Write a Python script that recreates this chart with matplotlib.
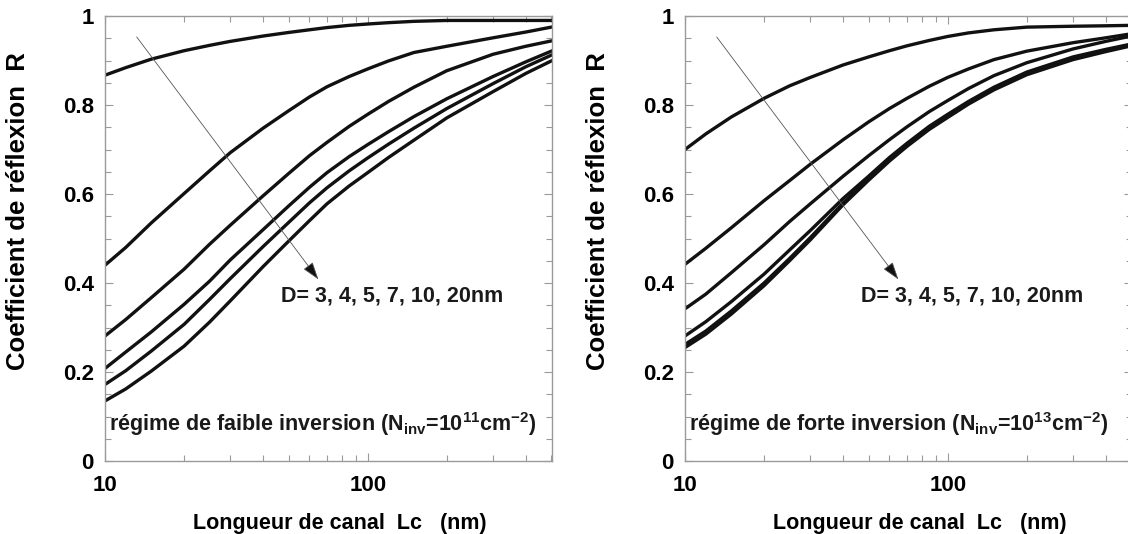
import matplotlib
matplotlib.use("Agg")
import matplotlib.pyplot as plt
from matplotlib.ticker import FixedLocator, NullFormatter, MultipleLocator

plt.rcParams['font.family'] = ['Liberation Sans', 'DejaVu Sans']
plt.rcParams['font.weight'] = 'bold'
plt.rcParams['mathtext.fontset'] = 'custom'
plt.rcParams['mathtext.rm'] = 'Liberation Sans:bold'
plt.rcParams['mathtext.bf'] = 'Liberation Sans:bold'
plt.rcParams['mathtext.it'] = 'Liberation Sans:bold'
plt.rcParams['mathtext.default'] = 'bf'

# ---- data ----
lc = [10, 12, 15, 20, 25, 30, 40, 50, 60, 70, 85, 100, 120, 150, 200, 300, 400, 500]
diameters = ['3', '4', '5', '7', '10', '20']

# weak inversion, N_inv = 1e11 cm^-2
weak_D3 = [0.867, 0.884, 0.903, 0.922, 0.934, 0.943, 0.955, 0.963, 0.969, 0.974, 0.979, 0.982, 0.985, 0.988, 0.990, 0.990, 0.990, 0.990]
weak_D4 = [0.440, 0.480, 0.535, 0.601, 0.652, 0.693, 0.748, 0.787, 0.818, 0.841, 0.864, 0.881, 0.899, 0.918, 0.932, 0.951, 0.964, 0.975]
weak_D5 = [0.281, 0.318, 0.367, 0.431, 0.487, 0.530, 0.596, 0.646, 0.686, 0.716, 0.752, 0.779, 0.808, 0.840, 0.877, 0.914, 0.932, 0.944]
weak_D7 = [0.208, 0.245, 0.290, 0.352, 0.404, 0.452, 0.520, 0.573, 0.615, 0.648, 0.684, 0.711, 0.740, 0.774, 0.814, 0.864, 0.897, 0.921]
weak_D10 = [0.172, 0.203, 0.247, 0.307, 0.363, 0.410, 0.482, 0.536, 0.580, 0.614, 0.652, 0.681, 0.712, 0.748, 0.792, 0.848, 0.886, 0.912]
weak_D20 = [0.135, 0.162, 0.202, 0.258, 0.312, 0.360, 0.437, 0.494, 0.540, 0.578, 0.618, 0.648, 0.682, 0.721, 0.771, 0.830, 0.871, 0.899]

# strong inversion, N_inv = 1e13 cm^-2
strong_D3 = [0.700, 0.735, 0.773, 0.815, 0.843, 0.862, 0.890, 0.908, 0.922, 0.933, 0.945, 0.954, 0.962, 0.969, 0.975, 0.977, 0.978, 0.979]
strong_D4 = [0.442, 0.478, 0.524, 0.585, 0.630, 0.667, 0.722, 0.762, 0.792, 0.815, 0.842, 0.862, 0.881, 0.902, 0.921, 0.940, 0.951, 0.960]
strong_D5 = [0.342, 0.375, 0.423, 0.486, 0.538, 0.578, 0.640, 0.686, 0.722, 0.751, 0.785, 0.810, 0.837, 0.866, 0.895, 0.926, 0.943, 0.955]
strong_D7 = [0.281, 0.313, 0.358, 0.420, 0.474, 0.518, 0.590, 0.640, 0.682, 0.714, 0.752, 0.779, 0.808, 0.840, 0.874, 0.908, 0.925, 0.937]
strong_D10 = [0.262, 0.292, 0.337, 0.400, 0.455, 0.502, 0.580, 0.634, 0.677, 0.710, 0.748, 0.775, 0.805, 0.837, 0.871, 0.905, 0.923, 0.935]
strong_D20 = [0.255, 0.285, 0.330, 0.394, 0.450, 0.497, 0.576, 0.631, 0.674, 0.707, 0.745, 0.772, 0.802, 0.834, 0.868, 0.902, 0.920, 0.933]

weak = [weak_D3, weak_D4, weak_D5, weak_D7, weak_D10, weak_D20]
strong = [strong_D3, strong_D4, strong_D5, strong_D7, strong_D10, strong_D20]

xticks = [10, 100]
xticklabels = ['10', '100']
yticks = [0, 0.2, 0.4, 0.6, 0.8, 1]
yticklabels = ['0', '0.2', '0.4', '0.6', '0.8', '1']

xlabel = 'Longueur de canal  Lc   (nm)'
ylabel = 'Coefficient de réflexion  R'
dlabel = 'D= ' + ', '.join(diameters) + 'nm'
weak_label = r'régime de faible inversion (N$_{inv}$=10$^{11}$cm$^{-2}$)'
strong_label = r'régime de forte inversion (N$_{inv}$=10$^{13}$cm$^{-2}$)'

# ---- figure ----
W, H = 1128, 534
fig = plt.figure(figsize=(W / 100, H / 100), dpi=100)
axL = fig.add_axes([105 / W, (H - 461) / H, 447 / W, 445 / H])
axR = fig.add_axes([685 / W, (H - 461) / H, 447 / W, 445 / H])

spine_col = '#9a9a9a'
for ax, series, reg_label in [(axL, weak, weak_label), (axR, strong, strong_label)]:
    for ys in series:
        ax.plot(lc, ys, color='#111111', lw=2.4, solid_joinstyle='round')
    ax.set_xscale('log')
    ax.set_xlim(10, 503)
    ax.set_ylim(0, 1)
    ax.xaxis.set_major_locator(FixedLocator(xticks))
    ax.set_xticklabels(xticklabels)
    ax.xaxis.set_minor_locator(FixedLocator([20, 30, 40, 50, 60, 70, 80, 90, 200, 300, 400, 500]))
    ax.xaxis.set_minor_formatter(NullFormatter())
    ax.set_yticks(yticks)
    ax.set_yticklabels(yticklabels)
    ax.yaxis.set_minor_locator(MultipleLocator(0.05))
    ax.tick_params(which='both', direction='in', top=True, right=True, color=spine_col, width=0.8)
    ax.tick_params(which='major', length=6)
    ax.tick_params(which='minor', length=4)
    ax.tick_params(axis='y', which='major', labelsize=16, pad=8)
    ax.tick_params(axis='x', which='major', labelsize=16, pad=10)
    for lab in ax.get_xticklabels() + ax.get_yticklabels():
        lab.set_fontweight('bold')
    for sp in ax.spines.values():
        sp.set_color(spine_col)
        sp.set_linewidth(1.0)
    ax.set_xlabel(xlabel, fontsize=15.5, fontweight='bold')
    ax.xaxis.set_label_coords(0.525, -0.117)
    ax.set_ylabel(ylabel, fontsize=18.5, fontweight='bold')
    ax.yaxis.set_label_coords(-0.167, 0.562)

    ax.annotate('', xy=(64.9, 0.408), xytext=(13.2, 0.953),
                arrowprops=dict(arrowstyle='-|>,head_length=1.1,head_width=0.36',
                                mutation_scale=10, lw=0.6, color='#555555',
                                fc='#111111', ec='#555555', shrinkA=0, shrinkB=0))
    ax.text(46.8, 0.37, dlabel, fontsize=15.5, fontweight='bold', ha='left', va='center',
            color='#1a1a1a')
    ax.text(10.35, 0.082, reg_label, fontsize=15.5, fontweight='bold', ha='left', va='center',
            color='#1a1a1a')

fig.savefig('out.png', dpi=100)
